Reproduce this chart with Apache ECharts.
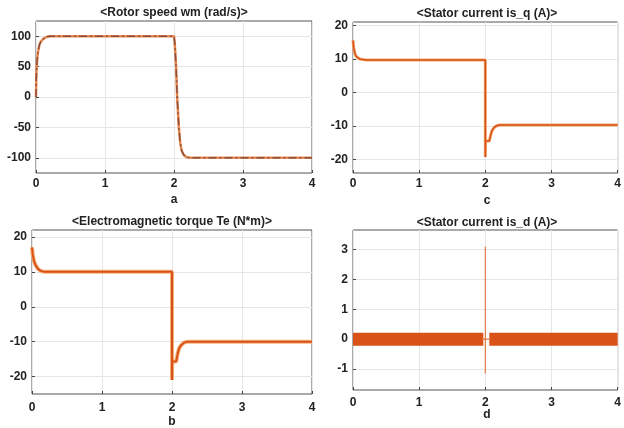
<!DOCTYPE html>
<html>
<head>
<meta charset="utf-8">
<script src="https://cdn.jsdelivr.net/npm/echarts@6/dist/echarts.min.js"></script>
<style>
  html, body { margin: 0; padding: 0; background: #fff; }
  #chart { width: 624px; height: 428px; }
</style>
</head>
<body>
<div id="chart"></div>
<script>
// x ticks (time, s)
const xTicks = [0, 1, 2, 3, 4]

// a: rotor speed wm (rad/s)
const speedT = [0, 0.004, 0.01, 0.02, 0.03, 0.05, 0.07, 0.1, 0.13, 0.16, 0.2, 2.0, 2.01, 2.03, 2.046, 2.07, 2.09, 2.11, 2.14, 2.18, 2.24, 4]
const speedV = [0, 30, 50, 65, 75, 86, 91, 95, 97.5, 99, 100, 100, 90, 50, 0, -50, -75, -88, -95, -99, -100, -100]
const speedTicks = [-100, -50, 0, 50, 100]

// b: electromagnetic torque Te (N*m)
const torqueT = [0, 0.01, 0.03, 0.05, 0.08, 0.12, 0.18, 2.0, 2.0, 2.003, 2.06, 2.08, 2.1, 2.13, 2.17, 2.22, 4]
const torqueV = [17, 15, 13, 12, 11, 10.3, 10, 10, -21, -15.7, -15.7, -13.5, -12, -11, -10.3, -10, -10]
const torqueTicks = [-20, -10, 0, 10, 20]

// c: stator current is_q (A)
const iqT = [0, 0.01, 0.03, 0.05, 0.1, 0.15, 0.2, 2.0, 2.0, 2.003, 2.06, 2.08, 2.1, 2.13, 2.17, 2.22, 4]
const iqV = [15.5, 13.5, 11.5, 10.7, 10, 9.8, 9.7, 9.7, -19.2, -14.5, -14.5, -12.8, -11.4, -10.5, -9.9, -9.7, -9.7]
const iqTicks = [-20, -10, 0, 10, 20]

// d: stator current is_d (A) - ripple band and switching spike
const idBandT1 = [0, 1.97]
const idBandV1 = [0, 0]
const idBandT2 = [2.06, 4]
const idBandV2 = [0, 0]
const idLineT = [1.95, 2.0, 2.0, 2.0, 2.0, 2.08]
const idLineV = [0, 0, 3.1, -1.15, 0, 0]
const idTicks = [-1, 0, 1, 2, 3]

const pairs = (t, v) => t.map((x, i) => [x, v[i]])

const font = 'Liberation Sans, Arial, sans-serif'
const orange = '#D95319'

const grids = [
  { left: 36, top: 21, width: 276, height: 152 },
  { left: 353, top: 22, width: 269, height: 151 },
  { left: 32, top: 230, width: 280, height: 164 },
  { left: 353, top: 230, width: 269, height: 160 },
]

const yRanges = [
  { min: -125, max: 125, ticks: speedTicks },
  { min: -24, max: 21, ticks: iqTicks },
  { min: -25, max: 22, ticks: torqueTicks },
  { min: -1.7, max: 3.65, ticks: idTicks },
]

const xLabelMargin = [5, 5, 8, 7]

const xAxis = grids.map((g, i) => ({
  type: 'value',
  gridIndex: i,
  min: 0,
  max: 4,
  interval: 1,
  axisLine: { show: false, onZero: false },
  axisTick: { show: true, inside: true, length: 3, lineStyle: { color: '#444' } },
  axisLabel: {
    margin: xLabelMargin[i],
    color: '#222',
    fontFamily: font,
    fontWeight: 'bold',
    fontSize: 12,
    customValues: xTicks,
  },
  splitLine: { show: true, lineStyle: { color: '#e6e6e6', width: 1 } },
}))

const yAxis = yRanges.map((r, i) => ({
  type: 'value',
  gridIndex: i,
  min: r.min,
  max: r.max,
  axisLine: { show: false, onZero: false },
  axisTick: { show: true, inside: true, length: 3, customValues: r.ticks, lineStyle: { color: '#444' } },
  axisLabel: {
    margin: 5,
    color: '#222',
    fontFamily: font,
    fontWeight: 'bold',
    fontSize: 12,
    customValues: r.ticks,
  },
  splitLine: { show: true, lineStyle: { color: '#e6e6e6', width: 1 } },
}))

function line(i, data, color, width, type, z) {
  return {
    type: 'line',
    xAxisIndex: i,
    yAxisIndex: i,
    data: data,
    showSymbol: false,
    symbol: 'none',
    animation: false,
    z: z || 2,
    lineStyle: { color: color, width: width, type: type || 'solid', cap: 'butt' },
  }
}

const titles = [
  { text: '<Rotor speed wm (rad/s)>', x: 174, y: 13 },
  { text: '<Stator current is_q (A)>', x: 487, y: 14 },
  { text: '<Electromagnetic torque Te (N*m)>', x: 172, y: 222 },
  { text: '<Stator current is_d (A)>', x: 487, y: 223 },
]
const letters = [
  { text: 'a', x: 174, y: 200 },
  { text: 'c', x: 487, y: 201 },
  { text: 'b', x: 172, y: 422 },
  { text: 'd', x: 487, y: 415 },
]

const graphic = titles.concat(letters).map((t) => ({
  type: 'text',
  x: t.x,
  y: t.y,
  style: {
    text: t.text,
    fill: '#222',
    font: 'bold 12px ' + font,
    textAlign: 'center',
    textVerticalAlign: 'middle',
  },
}))

const option = {
  backgroundColor: '#fff',
  animation: false,
  grid: grids.map((g) => Object.assign({ show: true, borderColor: '#555', borderWidth: 1, backgroundColor: 'transparent' }, g)),
  xAxis: xAxis,
  yAxis: yAxis,
  graphic: graphic,
  series: [
    line(0, pairs(speedT, speedV), '#E8884F', 2.5),
    line(0, pairs(speedT, speedV), '#8a4f3e', 1.5, [8, 3, 2, 3], 3),
    line(1, pairs(iqT, iqV), '#F2A56B', 3),
    line(1, pairs(iqT, iqV), orange, 1.5, 'solid', 3),
    line(2, pairs(torqueT, torqueV), '#F4B27A', 4),
    line(2, pairs(torqueT, torqueV), orange, 2, 'solid', 3),
    line(3, pairs(idBandT1, idBandV1), orange, 13),
    line(3, pairs(idBandT2, idBandV2), orange, 13),
    line(3, pairs(idLineT, idLineV), '#E07A45', 1.2, 'solid', 3),
  ],
}

const chart = echarts.init(document.getElementById('chart'))
chart.setOption(option)
window.addEventListener('resize', () => chart.resize())
</script>
</body>
</html>
